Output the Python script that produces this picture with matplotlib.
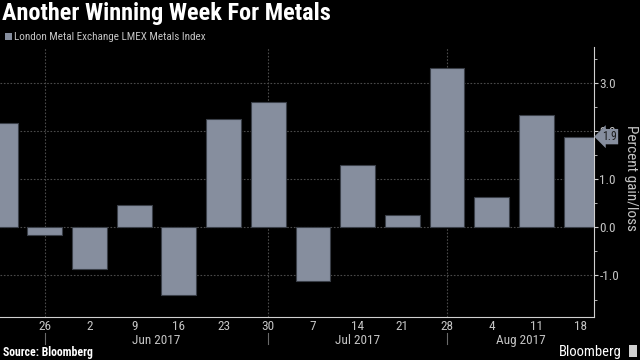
import matplotlib
matplotlib.use("Agg")
import matplotlib.pyplot as plt
import matplotlib.transforms as mtransforms
from matplotlib.lines import Line2D
from matplotlib.patches import Rectangle
from matplotlib.ticker import MultipleLocator

# ---- data ----
dates = ["2017-05-19", "2017-05-26", "2017-06-02", "2017-06-09", "2017-06-16",
         "2017-06-23", "2017-06-30", "2017-07-07", "2017-07-14", "2017-07-21",
         "2017-07-28", "2017-08-04", "2017-08-11", "2017-08-18"]
day_labels = ["", "26", "2", "9", "16", "23", "30", "7", "14", "21", "28", "4", "11", "18"]
values = [2.18, -0.16, -0.86, 0.46, -1.41, 2.25, 2.61, -1.11, 1.31, 0.26,
          3.31, 0.63, 2.35, 1.89]
month_labels = ["Jun 2017", "Jul 2017", "Aug 2017"]
y_ticks = [-1.0, 0.0, 1.0, 2.0, 3.0]
last_value_label = "1.9"

title = "Another Winning Week For Metals"
series_name = "London Metal Exchange LMEX Metals Index"
y_label = "Percent gain/loss"

FONT = ["Roboto Condensed", "DejaVu Sans"]
plt.rcParams["font.family"] = FONT

BG = "black"
BAR = "#868e9e"
TXT = "#c4c4c4"
GRID = "#4a4a4a"

fig = plt.figure(figsize=(6.4, 3.6), dpi=100, facecolor=BG)
ax = fig.add_axes([0.0, 0.12, 0.928, 0.75], facecolor=BG)

x = list(range(len(values)))
ax.bar(x, values, width=0.78, color=BAR, edgecolor="#3a3f48", linewidth=0.8, zorder=3)

ax.set_xlim(-0.005, len(values) - 1 + 0.29)
ax.set_ylim(-1.86, 3.76)

# month separators: last date of each month before a new month starts
months = [d[:7] for d in dates]
seps = [i for i in range(len(months) - 1) if months[i] != months[i + 1]]

# grid
for yv in y_ticks:
    ax.axhline(yv, color=GRID, lw=0.8, ls=(0, (1.5, 1.5)), zorder=1)
for s in seps:
    ax.axvline(s, color=GRID, lw=0.8, ls=(0, (1.5, 1.5)), zorder=1)

# spines
for side in ["top", "left"]:
    ax.spines[side].set_visible(False)
ax.spines["right"].set_color("#d0d0d0")
ax.spines["bottom"].set_color("#d0d0d0")
ax.spines["right"].set_linewidth(0.8)
ax.spines["bottom"].set_linewidth(0.8)

# y axis on right
ax.yaxis.tick_right()
ax.set_yticks(y_ticks)
ax.set_yticklabels([f"{v:.1f}" for v in y_ticks])
ax.yaxis.set_minor_locator(MultipleLocator(0.5))
ax.tick_params(axis="y", which="major", colors="#d0d0d0", labelcolor=TXT,
               labelsize=9.5, length=3, width=0.8, pad=1, direction="out")
ax.tick_params(axis="y", which="minor", colors="#d0d0d0", length=2, width=0.6)

# x ticks
ax.set_xticks(x)
ax.set_xticklabels(day_labels)
ax.tick_params(axis="x", length=0, labelcolor=TXT, labelsize=9.5, pad=2)

# y label
fig.text(0.986, 0.505, y_label, rotation=270, color=TXT, fontsize=11,
         ha="center", va="center")

# last value tag
trans_yr = mtransforms.blended_transform_factory(ax.transAxes, ax.transData)
ax.text(1.014, values[-1], last_value_label, transform=trans_yr, color="#1a1a1a",
        fontsize=8.5, ha="left", va="center", zorder=5, clip_on=False,
        bbox=dict(boxstyle="larrow,pad=0.1", fc=BAR, ec="none"))

# month labels and separators below axis
trans_xb = mtransforms.blended_transform_factory(ax.transData, ax.transAxes)
bounds = seps + [ax.get_xlim()[1]]
for i, m in enumerate(month_labels):
    cx = (bounds[i] + bounds[i + 1]) / 2
    ax.text(cx, -0.088, m, transform=trans_xb, color=TXT, fontsize=9.5,
            ha="center", va="center")
for s in seps:
    ax.add_line(Line2D([s, s], [-0.06, -0.1], transform=trans_xb, color="#6a6a6a",
                       lw=0.8, clip_on=False))

# title & legend
fig.text(0.003, 0.962, title, color="white", fontsize=17.5, fontweight="bold",
         ha="left", va="center")
fig.patches.append(Rectangle((0.008, 0.888), 0.011, 0.02, transform=fig.transFigure,
                             facecolor=BAR, edgecolor="none"))
fig.text(0.022, 0.897, series_name, color=TXT, fontsize=8, ha="left", va="center")

# footer
fig.text(0.005, 0.022, "Source: Bloomberg", color="white", fontsize=8.5,
         fontweight="bold", ha="left", va="center")
fig.text(0.972, 0.022, "Bloomberg", color="white", fontsize=10.5,
         ha="right", va="center")
fig.patches.append(Rectangle((0.983, 0.008), 0.012, 0.035, transform=fig.transFigure,
                             facecolor="#d0d0d0", edgecolor="none"))

fig.savefig("out.png", dpi=100, facecolor=BG)
